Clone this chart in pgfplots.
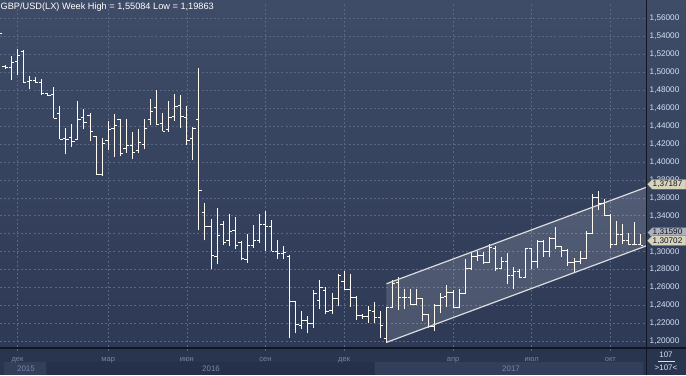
\documentclass[border=0pt]{standalone}
\usepackage{fontspec}
\setmainfont{Liberation Sans}
\usepackage{pgfplots}
\pgfplotsset{compat=1.18}
\usepackage{pgfplotstable}
\definecolor{bgtop}{RGB}{63,76,104}
\definecolor{bgbot}{RGB}{45,57,85}
\definecolor{gridc}{RGB}{88,103,134}
\definecolor{barc}{RGB}{255,251,240}
\definecolor{strip}{RGB}{41,52,78}
\definecolor{yearlight}{RGB}{50,63,90}
\definecolor{yeardark}{RGB}{38,49,73}
\definecolor{monthc}{RGB}{120,135,162}
\definecolor{tickc}{RGB}{212,224,242}
\definecolor{sepc}{RGB}{16,22,34}
\definecolor{lblbg}{RGB}{216,212,188}
\definecolor{lblgray}{RGB}{170,176,188}
\definecolor{chanc}{RGB}{220,220,222}

\pgfdeclareplotmark{otick}{\pgfpathmoveto{\pgfqpoint{-2.85bp}{0pt}}\pgfpathlineto{\pgfqpoint{0pt}{0pt}}\pgfusepathqstroke}
\pgfdeclareplotmark{ctick}{\pgfpathmoveto{\pgfqpoint{0pt}{0pt}}\pgfpathlineto{\pgfqpoint{2.85bp}{0pt}}\pgfusepathqstroke}

\pgfplotstableread{
k o h l c
0 1.5450 1.5508 1.5380 1.5427
1 1.5067 1.5075 1.5040 1.5048
2 1.5049 1.5179 1.4911 1.5112
3 1.5123 1.5260 1.4963 1.5190
4 1.5234 1.5245 1.4882 1.4882
5 1.4890 1.4956 1.4807 1.4905
6 1.4911 1.4948 1.4882 1.4889
7 1.4889 1.4926 1.4748 1.4759
8 1.4759 1.4762 1.4733 1.4740
9 1.4748 1.4837 1.4484 1.4484
10 1.4540 1.4622 1.4250 1.4250
11 1.4258 1.4377 1.4083 1.4250
12 1.4273 1.4425 1.4169 1.4224
13 1.4254 1.4674 1.4243 1.4473
14 1.4499 1.4592 1.4362 1.4443
15 1.4521 1.4540 1.4236 1.4343
16 1.4288 1.4290 1.3861 1.3861
17 1.3861 1.4265 1.3842 1.4206
18 1.4236 1.4455 1.4131 1.4362
19 1.4377 1.4536 1.4057 1.4410
20 1.4473 1.4481 1.4065 1.4094
21 1.4146 1.4481 1.4102 1.4187
22 1.4187 1.4336 1.4028 1.4102
23 1.4131 1.4369 1.4094 1.4213
24 1.4195 1.4473 1.4139 1.4369
25 1.4469 1.4696 1.4406 1.4566
26 1.4610 1.4796 1.4406 1.4417
27 1.4429 1.4547 1.4340 1.4343
28 1.4362 1.4677 1.4336 1.4492
29 1.4510 1.4759 1.4455 1.4614
30 1.4629 1.4744 1.4380 1.4503
31 1.4492 1.4622 1.4184 1.4243
32 1.4258 1.4391 1.4016 1.4369
33 1.4473 1.5041 1.3237 1.3682
34 1.3441 1.3545 1.3125 1.3278
35 1.3285 1.3359 1.2802 1.2962
36 1.2951 1.3489 1.2858 1.3185
37 1.3300 1.3345 1.3075 1.3107
38 1.3125 1.3415 1.3062 1.3226
39 1.3233 1.3389 1.3025 1.3073
40 1.3099 1.3118 1.2906 1.2925
41 1.2914 1.3200 1.2877 1.3070
42 1.3073 1.3292 1.3044 1.3129
43 1.3129 1.3415 1.3099 1.3305
44 1.3305 1.3452 1.3006 1.3278
45 1.3278 1.3352 1.3006 1.3006
46 1.3006 1.3129 1.2921 1.2977
47 1.2977 1.3062 1.2921 1.2988
48 1.2951 1.2965 1.2034 1.2442
49 1.2442 1.2450 1.2089 1.2190
50 1.2179 1.2338 1.2134 1.2234
51 1.2234 1.2283 1.2089 1.2201
52 1.2201 1.2568 1.2145 1.2531
53 1.2461 1.2684 1.2357 1.2598
54 1.2572 1.2609 1.2301 1.2338
55 1.2346 1.2542 1.2301 1.2476
56 1.2476 1.2750 1.2390 1.2740
57 1.2663 1.2784 1.2580 1.2583
58 1.2583 1.2747 1.2383 1.2487
59 1.2487 1.2505 1.2238 1.2290
60 1.2290 1.2305 1.2250 1.2283
61 1.2277 1.2394 1.2208 1.2348
62 1.2338 1.2439 1.2208 1.2271
63 1.2271 1.2338 1.2041 1.2179
64 1.2030 1.2380 1.1986 1.2375
65 1.2383 1.2683 1.2375 1.2650
66 1.2654 1.2721 1.2349 1.2487
67 1.2487 1.2587 1.2357 1.2494
68 1.2494 1.2580 1.2401 1.2413
69 1.2413 1.2587 1.2401 1.2476
70 1.2476 1.2480 1.2227 1.2301
71 1.2301 1.2308 1.2145 1.2171
72 1.2171 1.2412 1.2115 1.2401
73 1.2401 1.2542 1.2312 1.2487
74 1.2500 1.2624 1.2386 1.2550
75 1.2542 1.2568 1.2368 1.2383
76 1.2383 1.2580 1.2368 1.2531
77 1.2531 1.2914 1.2524 1.2810
78 1.2817 1.2995 1.2795 1.2951
79 1.2951 1.3007 1.2895 1.2958
80 1.2958 1.2995 1.2858 1.2884
81 1.2884 1.3081 1.2877 1.3044
82 1.3033 1.3062 1.2784 1.2810
83 1.2810 1.2943 1.2805 1.2888
84 1.2888 1.2988 1.2635 1.2739
85 1.2739 1.2832 1.2587 1.2776
86 1.2776 1.2810 1.2710 1.2717
87 1.2717 1.3044 1.2710 1.3033
88 1.3033 1.3040 1.2810 1.2888
89 1.2888 1.3129 1.2821 1.3110
90 1.3110 1.3129 1.2940 1.3007
91 1.3007 1.3166 1.2940 1.3144
92 1.3144 1.3278 1.3025 1.3055
93 1.3055 1.3062 1.2940 1.3018
94 1.3018 1.3033 1.2840 1.2877
95 1.2877 1.2925 1.2776 1.2888
96 1.2888 1.3007 1.2858 1.2921
97 1.2921 1.3229 1.2921 1.3203
98 1.3203 1.3638 1.3192 1.3601
99 1.3601 1.3675 1.3460 1.3534
100 1.3534 1.3590 1.3397 1.3404
101 1.3404 1.3415 1.3044 1.3081
102 1.3081 1.3341 1.3070 1.3192
103 1.3192 1.3304 1.3081 1.3129
104 1.3129 1.3211 1.3081 1.3081
105 1.3081 1.3330 1.3070 1.3085
106 1.3085 1.3192 1.3070 1.3070
}\ohlc

\begin{document}
\begin{tikzpicture}[x=1bp,y=1bp]
\useasboundingbox (0,0) rectangle (686,375);
\shade[top color=bgtop, bottom color=bgbot] (0,27) rectangle (686,375);
\fill[strip] (0,0) rectangle (686,27);
\fill[yearlight] (4.4,0) rectangle (46,13);
\fill[yeardark] (46.8,0) rectangle (374,13);
\fill[yearlight] (374.5,0) rectangle (643,13);
\begin{axis}[
  at={(0,27)}, anchor=south west, scale only axis,
  width=646.5bp, height=348bp,
  xmin=0.116, xmax=106.98, ymin=1.18965, ymax=1.57726,
  axis line style={draw=none}, major tick length=0pt,
  clip=false,
  grid=major,
  major grid style={gridc, dash pattern=on 2bp off 2.2bp, line width=0.6bp},
  xtick={3,18,31,44,57,75,88,101},
  xticklabels={дек,мар,июн,сен,дек,апр,июл,окт},
  xticklabel style={font=\fontsize{7.5bp}{9bp}\selectfont, text=monthc, anchor=base, yshift=-10.5bp},
  ytick={1.20,1.22,1.24,1.26,1.28,1.30,1.32,1.34,1.36,1.38,1.40,1.42,1.44,1.46,1.48,1.50,1.52,1.54,1.56},
  yticklabel pos=right,
  yticklabel style={font=\fontsize{8.2bp}{9bp}\selectfont, text=tickc, anchor=west, xshift=2bp, inner sep=1bp,
    /pgf/number format/fixed, /pgf/number format/fixed zerofill, /pgf/number format/precision=5,
    /pgf/number format/use comma, /pgf/number format/1000 sep={}, /pgf/number format/assume math mode=true},
]
\addplot[draw=none, fill=white, fill opacity=0.14] coordinates {(64,1.1990) (106.98,1.3066) (106.98,1.37187) (64,1.2643)} -- cycle;
\addplot[draw=none, mark=none, forget plot, error bars/.cd, y dir=plus, y explicit, error mark=none,
  error bar style={draw=barc, line width=1bp, solid}]
  table[x=k, y=l, y error expr=\thisrow{h}-\thisrow{l}]{\ohlc};
\addplot[only marks, mark=otick, mark options={draw=barc, line width=1bp, solid}]
  table[x=k, y=o]{\ohlc};
\addplot[only marks, mark=ctick, mark options={draw=barc, line width=1bp, solid}]
  table[x=k, y=c]{\ohlc};
\addplot[chanc, line width=1.2bp, mark=none] coordinates {(64,1.2643) (106.98,1.37187)};
\addplot[chanc, line width=1.2bp, mark=none] coordinates {(64,1.1990) (106.98,1.3066)};
\end{axis}
% separators
\draw[sepc, line width=1.6bp] (0,27) -- (686,27);
\draw[sepc, line width=1.2bp] (646.6,0) -- (646.6,375);
% header
\node[anchor=base west, inner sep=0pt, text=white, font=\fontsize{9.2bp}{11bp}\selectfont] at (0.5,365.6) {GBP/USD(LX) Week High = 1,55084 Low = 1,19863};
% years
\node[text=monthc, font=\fontsize{8bp}{9bp}\selectfont] at (26,6.5) {2015};
\node[text=monthc, font=\fontsize{8bp}{9bp}\selectfont] at (211,6.5) {2016};
\node[text=monthc, font=\fontsize{8bp}{9bp}\selectfont] at (511,6.5) {2017};
% bottom right counter
\node[text=tickc, font=\fontsize{8bp}{9bp}\selectfont] at (666,20) {107};
\draw[tickc, line width=0.5bp] (658,13.5) -- (675,13.5);
\node[text=tickc, font=\fontsize{8bp}{9bp}\selectfont] at (666,7) {>107<};
% price labels
\fill[lblgray] (647.5,142.5) -- (652.5,147.5) -- (686,147.5) -- (686,137.5) -- (652.5,137.5) -- cycle;
\node[anchor=west, inner sep=0pt, text=sepc, font=\fontsize{8.2bp}{9bp}\selectfont] at (652.5,142.5) {1,31590};
\filldraw[fill=lblbg, draw=gray!60!black, line width=0.3bp] (647,190.6) -- (652,195.6) -- (686,195.6) -- (686,185.6) -- (652,185.6) -- cycle;
\node[anchor=west, inner sep=0pt, text=sepc, font=\fontsize{8.2bp}{9bp}\selectfont] at (652.5,190.6) {1,37187};
\filldraw[fill=lblbg, draw=gray!60!black, line width=0.3bp] (647,134.3) -- (652,139.3) -- (686,139.3) -- (686,129.3) -- (652,129.3) -- cycle;
\node[anchor=west, inner sep=0pt, text=sepc, font=\fontsize{8.2bp}{9bp}\selectfont] at (652.5,134.3) {1,30702};
\end{tikzpicture}
\end{document}
